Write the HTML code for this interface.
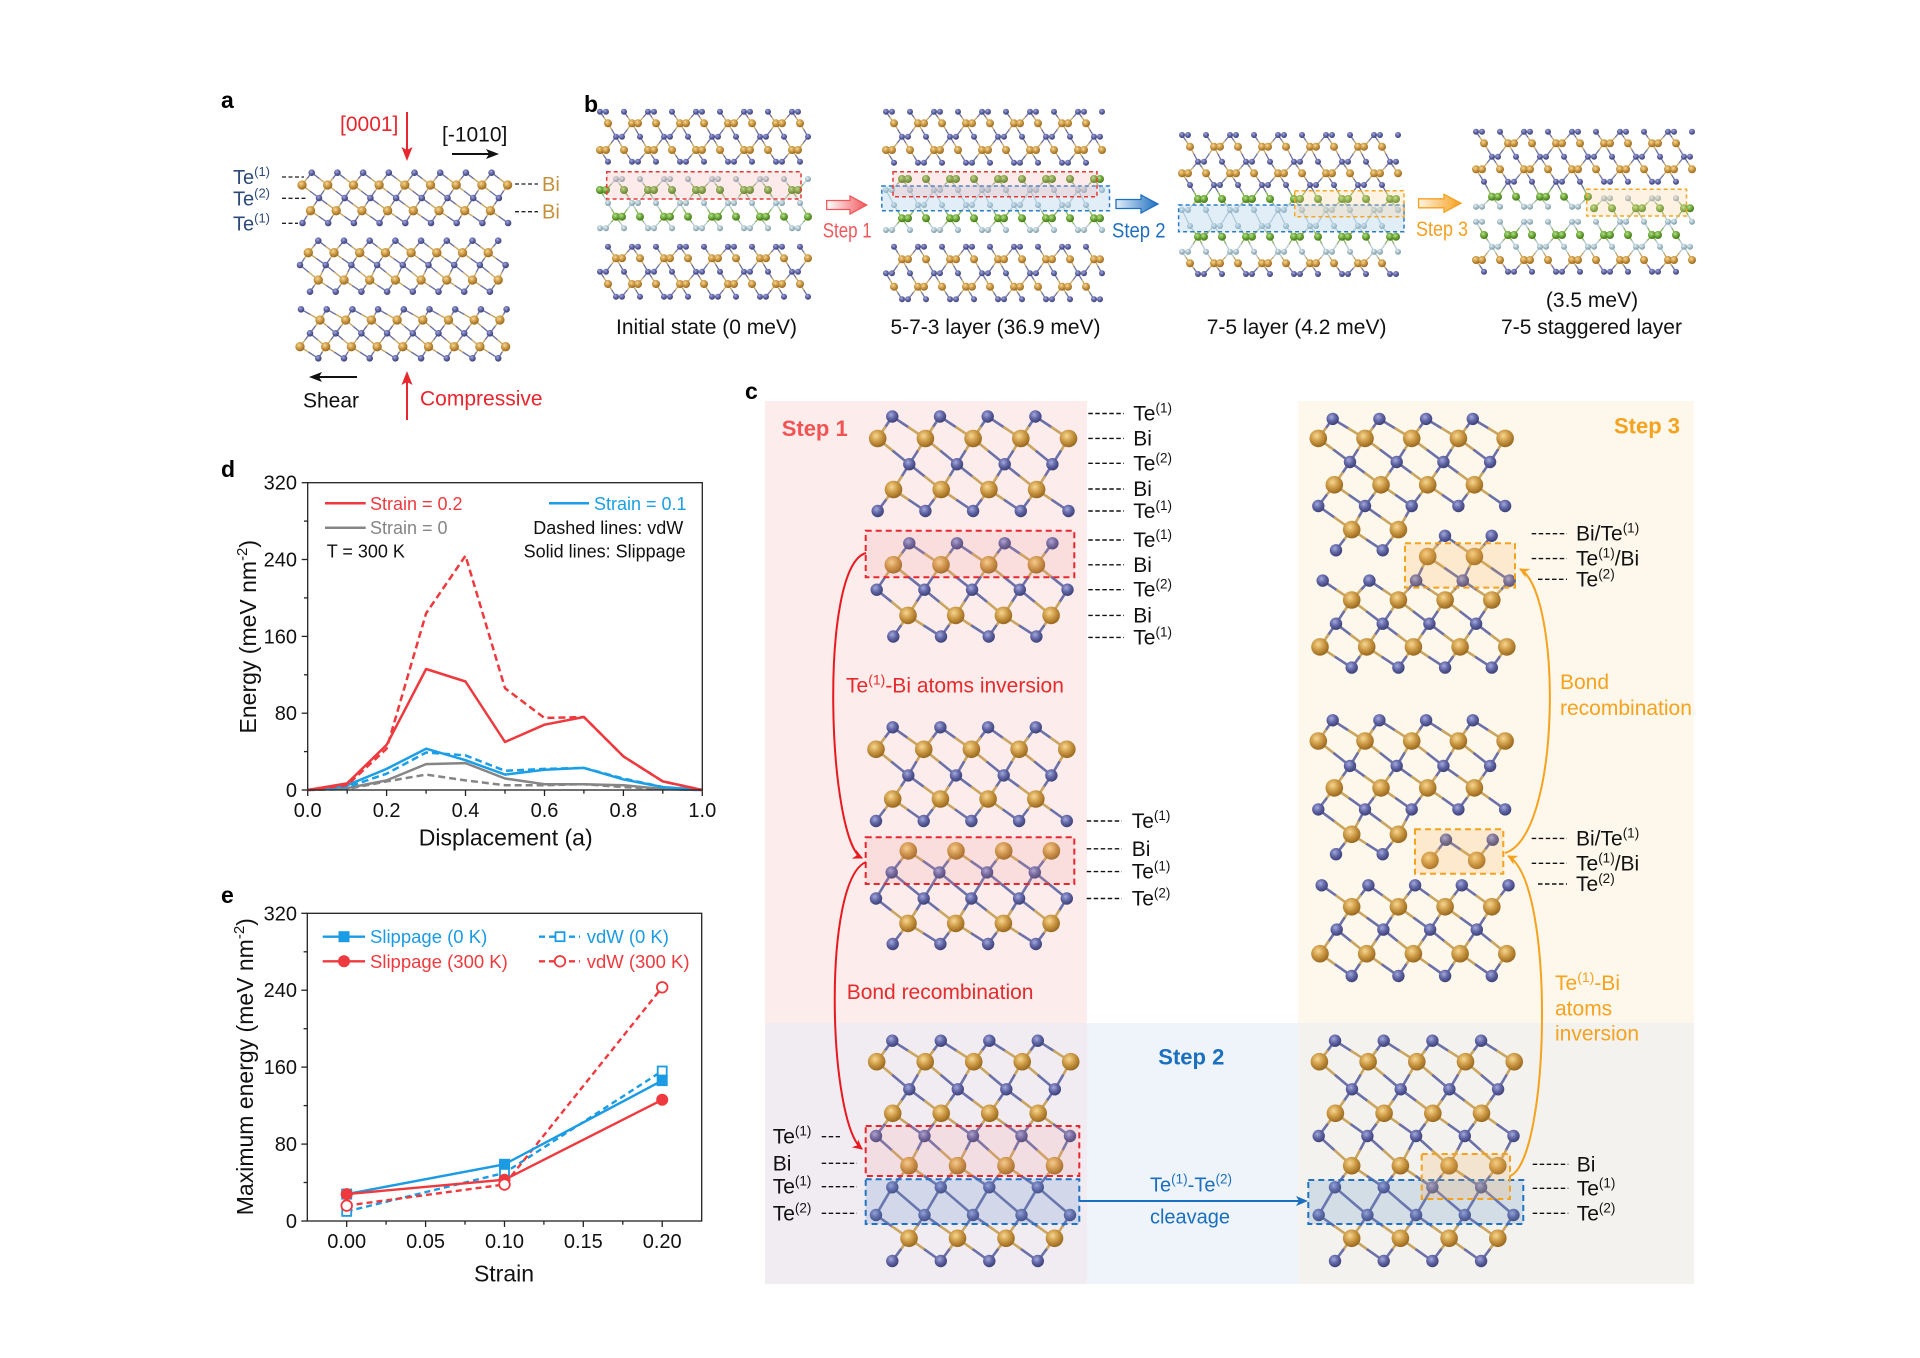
<!DOCTYPE html>
<html><head><meta charset="utf-8">
<style>
html,body{margin:0;padding:0;background:#fff;}
svg{display:block;}
text{font-family:"Liberation Sans",Arial,sans-serif;}
</style></head><body>
<svg id="main" xmlns="http://www.w3.org/2000/svg" width="1920" height="1358" viewBox="0 0 1920 1358">
<defs>
<radialGradient id="gTe" cx="40%" cy="35%" r="65%"><stop offset="0" stop-color="#a3a8dc"/><stop offset="0.55" stop-color="#5e63a3"/><stop offset="1" stop-color="#3d4177"/></radialGradient>
<radialGradient id="gBi" cx="40%" cy="35%" r="65%"><stop offset="0" stop-color="#f7d690"/><stop offset="0.55" stop-color="#c99641"/><stop offset="1" stop-color="#98681f"/></radialGradient>
<radialGradient id="gG" cx="40%" cy="35%" r="65%"><stop offset="0" stop-color="#b8e28e"/><stop offset="0.55" stop-color="#6aa535"/><stop offset="1" stop-color="#42761b"/></radialGradient>
<radialGradient id="gL" cx="40%" cy="35%" r="65%"><stop offset="0" stop-color="#e6f0f3"/><stop offset="0.55" stop-color="#a8c1ca"/><stop offset="1" stop-color="#7c99a4"/></radialGradient>
<linearGradient id="lgR" x1="0" x2="1" y1="0" y2="0"><stop offset="0" stop-color="#fff"/><stop offset="1" stop-color="#f0585c"/></linearGradient>
<linearGradient id="lgB" x1="0" x2="1" y1="0" y2="0"><stop offset="0" stop-color="#e3eff9"/><stop offset="1" stop-color="#1f6fc0"/></linearGradient>
<linearGradient id="lgO" x1="0" x2="1" y1="0" y2="0"><stop offset="0" stop-color="#fff4e2"/><stop offset="1" stop-color="#f5a020"/></linearGradient>
<marker id="aR" markerWidth="11" markerHeight="10" refX="9" refY="5" orient="auto" markerUnits="userSpaceOnUse"><path d="M0,0 L10,5 L0,10 L3,5z" fill="#e8191f"/></marker>
<marker id="aO" markerWidth="11" markerHeight="10" refX="9" refY="5" orient="auto" markerUnits="userSpaceOnUse"><path d="M0,0 L10,5 L0,10 L3,5z" fill="#f5a21f"/></marker>
</defs>
<rect width="1920" height="1358" fill="#fff"/>

<!-- panel c backgrounds -->
<rect x="765" y="401" width="322" height="622" fill="#fcecec"/>
<rect x="1298" y="401" width="396" height="622" fill="#fef8ec"/>
<rect x="765" y="1023" width="322" height="261" fill="#f1ecf2"/>
<rect x="1087" y="1023" width="211" height="261" fill="#eef4fa"/>
<rect x="1298" y="1023" width="396" height="261" fill="#f3f2ee"/>

<g id="bonds" stroke-linecap="round"></g>
<g id="atoms"></g>

<!-- panel labels -->
<g font-weight="bold" font-size="23" fill="#000">
<text x="221" y="108">a</text>
<text x="584" y="112">b</text>
<text x="745" y="399">c</text>
<text x="221" y="477">d</text>
<text x="221" y="903">e</text>
</g>

<!-- panel a -->
<text x="340" y="131" font-size="21" fill="#e8262d">[0001]</text>
<line x1="407" y1="112" x2="407" y2="152" stroke="#e8262d" stroke-width="2"/>
<polygon points="401.5,147 407,161 412.5,147 407,150" fill="#e8262d"/>
<text x="442" y="141.5" font-size="21" fill="#111">[-1010]</text>
<line x1="452" y1="154" x2="492" y2="154" stroke="#111" stroke-width="2"/>
<polygon points="486,149 499,154 486,159 489,154" fill="#111"/>
<g font-size="20" fill="#2d4a7a">
<text x="233" y="184">Te<tspan font-size="13" dy="-8">(1)</tspan></text>
<text x="233" y="205.5">Te<tspan font-size="13" dy="-8">(2)</tspan></text>
<text x="233" y="230.5">Te<tspan font-size="13" dy="-8">(1)</tspan></text>
</g>
<g stroke="#222" stroke-width="1.3" stroke-dasharray="4 2.5">
<line x1="282" y1="177" x2="304" y2="177"/>
<line x1="282" y1="198.3" x2="306" y2="198.3"/>
<line x1="282" y1="223.3" x2="298" y2="223.3"/>
<line x1="515" y1="184" x2="538" y2="184"/>
<line x1="515" y1="211.7" x2="538" y2="211.7"/>
</g>
<g font-size="20" fill="#c4903c">
<text x="542" y="191">Bi</text>
<text x="542" y="218.7">Bi</text>
</g>
<line x1="357" y1="377" x2="316" y2="377" stroke="#111" stroke-width="2"/>
<polygon points="322,372 309,377 322,382 319,377" fill="#111"/>
<text x="303" y="407.5" font-size="21" fill="#111">Shear</text>
<line x1="407" y1="420" x2="407" y2="380" stroke="#e8262d" stroke-width="2"/>
<polygon points="401.5,385 407,371 412.5,385 407,382" fill="#e8262d"/>
<text x="420" y="405.5" font-size="21" fill="#e8262d">Compressive</text>

<!-- panel b boxes -->
<g stroke-width="1.5" stroke-dasharray="4 3">
<rect x="606.7" y="171.7" width="194.3" height="27.3" fill="rgba(245,160,160,0.22)" stroke="#e53935"/>
<rect x="881.8" y="186" width="227.7" height="24.7" fill="rgba(170,205,235,0.35)" stroke="#2b7bc4"/>
<rect x="893" y="171.7" width="204" height="25" fill="rgba(245,160,160,0.22)" stroke="#e53935"/>
<rect x="1178.6" y="205" width="225.4" height="26.7" fill="rgba(170,205,235,0.35)" stroke="#2b7bc4"/>
<rect x="1294.7" y="190.7" width="109.3" height="26" fill="rgba(250,210,150,0.28)" stroke="#f5a623"/>
<rect x="1586.7" y="189.3" width="99.8" height="26.7" fill="rgba(250,210,150,0.28)" stroke="#f5a623"/>
</g>
<polygon points="826.7,200.5 850,200.5 850,196 866.7,205 850,214 850,209.5 826.7,209.5" fill="url(#lgR)" stroke="#f0585c" stroke-width="1.3"/>
<polygon points="1116,199.5 1141,199.5 1141,195 1158,204 1141,213 1141,208.5 1116,208.5" fill="url(#lgB)" stroke="#1f6fc0" stroke-width="1.3"/>
<polygon points="1418.6,198.8 1444,198.8 1444,194.3 1461,203.3 1444,212.3 1444,207.8 1418.6,207.8" fill="url(#lgO)" stroke="#f5a020" stroke-width="1.3"/>
<text x="822.7" y="237.5" font-size="21" fill="#f0585c" textLength="49" lengthAdjust="spacingAndGlyphs">Step 1</text>
<text x="1112" y="237.5" font-size="21" fill="#1f6fc0" textLength="53.5" lengthAdjust="spacingAndGlyphs">Step 2</text>
<text x="1416" y="236" font-size="21" fill="#f5a020" textLength="52" lengthAdjust="spacingAndGlyphs">Step 3</text>
<g font-size="21" fill="#111" text-anchor="middle">
<text x="706.5" y="334">Initial state (0 meV)</text>
<text x="995.5" y="334">5-7-3 layer (36.9 meV)</text>
<text x="1296.6" y="334">7-5 layer (4.2 meV)</text>
<text x="1592" y="307">(3.5 meV)</text>
<text x="1591.5" y="334">7-5 staggered layer</text>
</g>

<!-- panel c boxes -->
<g stroke-width="2" stroke-dasharray="6 4">
<rect x="865.7" y="530.8" width="208.6" height="46.5" fill="rgba(240,140,140,0.16)" stroke="#e8262d"/>
<rect x="865.7" y="837.2" width="208.6" height="46.8" fill="rgba(240,140,140,0.16)" stroke="#e8262d"/>
<rect x="865.7" y="1126" width="213.6" height="50" fill="rgba(240,140,140,0.16)" stroke="#e8262d"/>
<rect x="865.7" y="1179.3" width="213.6" height="44.7" fill="rgba(100,145,200,0.22)" stroke="#2272c3"/>
<rect x="1308.3" y="1180" width="215" height="44" fill="rgba(100,145,200,0.22)" stroke="#2272c3"/>
<rect x="1421.7" y="1154" width="88.3" height="45" fill="rgba(245,175,90,0.2)" stroke="#f5a21f"/>
<rect x="1405" y="543.3" width="110" height="44.3" fill="rgba(245,175,90,0.2)" stroke="#f5a21f"/>
<rect x="1415" y="829.3" width="88.3" height="44.4" fill="rgba(245,175,90,0.2)" stroke="#f5a21f"/>
</g>

<!-- panel c curves -->
<g fill="none" stroke-width="2">
<path d="M866,553 C818,566 828,842 862,858" stroke="#e8191f" marker-end="url(#aR)"/>
<path d="M866,862 C822,880 828,1122 862,1149" stroke="#e8191f" marker-end="url(#aR)"/>
<path d="M1505,853 C1562,835 1562,592 1520,569" stroke="#f5a21f" marker-end="url(#aO)"/>
<path d="M1510,1176 C1550,1160 1556,882 1508,856" stroke="#f5a21f" marker-end="url(#aO)"/>
</g>
<line x1="1079.3" y1="1201" x2="1300" y2="1201" stroke="#1a6fbe" stroke-width="2"/>
<polygon points="1296,1196 1308,1201 1296,1206 1299,1201" fill="#1a6fbe"/>

<!-- panel c texts -->
<g font-weight="bold" font-size="22">
<text x="781.7" y="436" fill="#f25454">Step 1</text>
<text x="1158.3" y="1064.5" fill="#1a6fbe">Step 2</text>
<text x="1680" y="433.5" fill="#f5a21f" text-anchor="end">Step 3</text>
</g>
<g font-size="21" fill="#e52b2b">
<text x="846" y="692.5">Te<tspan font-size="14" dy="-8">(1)</tspan><tspan dy="8">-Bi atoms inversion</tspan></text>
<text x="846.7" y="999">Bond recombination</text>
</g>
<g font-size="20" fill="#1a6fbe" text-anchor="middle">
<text x="1191" y="1191.5">Te<tspan font-size="13.5" dy="-8">(1)</tspan><tspan dy="8">-Te</tspan><tspan font-size="13.5" dy="-8">(2)</tspan></text>
<text x="1190" y="1223.5">cleavage</text>
</g>
<g font-size="21" fill="#f5a21f">
<text x="1560" y="689">Bond</text>
<text x="1560" y="715">recombination</text>
<text x="1555" y="990">Te<tspan font-size="14" dy="-8">(1)</tspan><tspan dy="8">-Bi</tspan></text>
<text x="1555" y="1015.5">atoms</text>
<text x="1555" y="1040.5">inversion</text>
</g>
<!-- dashed label lines -->
<g stroke="#111" stroke-width="1.4" stroke-dasharray="4.5 2.5">
<line x1="1088.3" y1="413.5" x2="1124" y2="413.5"/>
<line x1="1088.3" y1="438.4" x2="1124" y2="438.4"/>
<line x1="1088.3" y1="463.3" x2="1124" y2="463.3"/>
<line x1="1088.3" y1="489" x2="1124" y2="489"/>
<line x1="1088.3" y1="511" x2="1124" y2="511"/>
<line x1="1088.3" y1="540" x2="1124" y2="540"/>
<line x1="1088.3" y1="564.8" x2="1124" y2="564.8"/>
<line x1="1088.3" y1="589.7" x2="1124" y2="589.7"/>
<line x1="1088.3" y1="615.4" x2="1124" y2="615.4"/>
<line x1="1088.3" y1="637.4" x2="1124" y2="637.4"/>
<line x1="1086.7" y1="821" x2="1122" y2="821"/>
<line x1="1086.7" y1="848.8" x2="1122" y2="848.8"/>
<line x1="1086.7" y1="871.6" x2="1122" y2="871.6"/>
<line x1="1086.7" y1="898.5" x2="1122" y2="898.5"/>
<line x1="821.7" y1="1136.7" x2="840" y2="1136.7"/>
<line x1="821.7" y1="1163.3" x2="857" y2="1163.3"/>
<line x1="821.7" y1="1186.7" x2="857" y2="1186.7"/>
<line x1="821.7" y1="1213.3" x2="857" y2="1213.3"/>
<line x1="1532.7" y1="1164.3" x2="1568.3" y2="1164.3"/>
<line x1="1532.7" y1="1188.3" x2="1568.3" y2="1188.3"/>
<line x1="1532.7" y1="1213.3" x2="1568.3" y2="1213.3"/>
<line x1="1531.7" y1="533.7" x2="1567" y2="533.7"/>
<line x1="1531.7" y1="558.6" x2="1567" y2="558.6"/>
<line x1="1538" y1="579.3" x2="1567" y2="579.3"/>
<line x1="1531.7" y1="838.4" x2="1567" y2="838.4"/>
<line x1="1531.7" y1="863.3" x2="1567" y2="863.3"/>
<line x1="1538" y1="884" x2="1567" y2="884"/>
</g>
<g font-size="21" fill="#111">
<text x="1133.3" y="420.5">Te<tspan font-size="13.5" dy="-8">(1)</tspan></text>
<text x="1133.3" y="445.4">Bi</text>
<text x="1133.3" y="470.3">Te<tspan font-size="13.5" dy="-8">(2)</tspan></text>
<text x="1133.3" y="496">Bi</text>
<text x="1133.3" y="518">Te<tspan font-size="13.5" dy="-8">(1)</tspan></text>
<text x="1133.3" y="547">Te<tspan font-size="13.5" dy="-8">(1)</tspan></text>
<text x="1133.3" y="571.8">Bi</text>
<text x="1133.3" y="596.7">Te<tspan font-size="13.5" dy="-8">(2)</tspan></text>
<text x="1133.3" y="622.4">Bi</text>
<text x="1133.3" y="644.4">Te<tspan font-size="13.5" dy="-8">(1)</tspan></text>
<text x="1131.7" y="828">Te<tspan font-size="13.5" dy="-8">(1)</tspan></text>
<text x="1131.7" y="855.8">Bi</text>
<text x="1131.7" y="878.6">Te<tspan font-size="13.5" dy="-8">(1)</tspan></text>
<text x="1131.7" y="905.5">Te<tspan font-size="13.5" dy="-8">(2)</tspan></text>
<text x="772.7" y="1143.7">Te<tspan font-size="13.5" dy="-8">(1)</tspan></text>
<text x="772.7" y="1170.3">Bi</text>
<text x="772.7" y="1193.7">Te<tspan font-size="13.5" dy="-8">(1)</tspan></text>
<text x="772.7" y="1220.3">Te<tspan font-size="13.5" dy="-8">(2)</tspan></text>
<text x="1576.7" y="1171.3">Bi</text>
<text x="1576.7" y="1195.3">Te<tspan font-size="13.5" dy="-8">(1)</tspan></text>
<text x="1576.7" y="1220.3">Te<tspan font-size="13.5" dy="-8">(2)</tspan></text>
<text x="1576" y="540.7">Bi/Te<tspan font-size="13.5" dy="-8">(1)</tspan></text>
<text x="1576" y="565.6">Te<tspan font-size="13.5" dy="-8">(1)</tspan><tspan dy="8">/Bi</tspan></text>
<text x="1576" y="586.3">Te<tspan font-size="13.5" dy="-8">(2)</tspan></text>
<text x="1576" y="845.4">Bi/Te<tspan font-size="13.5" dy="-8">(1)</tspan></text>
<text x="1576" y="870.3">Te<tspan font-size="13.5" dy="-8">(1)</tspan><tspan dy="8">/Bi</tspan></text>
<text x="1576" y="891">Te<tspan font-size="13.5" dy="-8">(2)</tspan></text>
</g>

<!-- panel d -->
<g stroke="#222" stroke-width="1.3">
<line x1="307.7" y1="790" x2="301.7" y2="790"/>
<line x1="307.7" y1="713.2" x2="301.7" y2="713.2"/>
<line x1="307.7" y1="636.4" x2="301.7" y2="636.4"/>
<line x1="307.7" y1="559.5" x2="301.7" y2="559.5"/>
<line x1="307.7" y1="482.7" x2="301.7" y2="482.7"/>
<line x1="307.7" y1="751.6" x2="304" y2="751.6"/>
<line x1="307.7" y1="674.8" x2="304" y2="674.8"/>
<line x1="307.7" y1="597.9" x2="304" y2="597.9"/>
<line x1="307.7" y1="521.1" x2="304" y2="521.1"/>
<line x1="307.7" y1="790" x2="307.7" y2="796"/>
<line x1="386.6" y1="790" x2="386.6" y2="796"/>
<line x1="465.5" y1="790" x2="465.5" y2="796"/>
<line x1="544.5" y1="790" x2="544.5" y2="796"/>
<line x1="623.4" y1="790" x2="623.4" y2="796"/>
<line x1="702.3" y1="790" x2="702.3" y2="796"/>
<line x1="347.2" y1="790" x2="347.2" y2="793.7"/>
<line x1="426.1" y1="790" x2="426.1" y2="793.7"/>
<line x1="505" y1="790" x2="505" y2="793.7"/>
<line x1="583.9" y1="790" x2="583.9" y2="793.7"/>
<line x1="662.8" y1="790" x2="662.8" y2="793.7"/>
</g>
<g fill="none" stroke-width="2.5" stroke-linejoin="round">
<polyline points="307.7,790 347.2,789 386.6,781.4 426.1,774.6 465.5,780.4 505,785.2 544.5,785.2 583.9,784.2 623.4,787.1 662.8,789 702.3,790" stroke="#858585" stroke-dasharray="7 4"/>
<polyline points="307.7,790 347.2,788.1 386.6,780.4 426.1,764.1 465.5,763.1 505,778.5 544.5,784.2 583.9,784.2 623.4,785.2 662.8,789 702.3,790" stroke="#858585"/>
<polyline points="307.7,790 347.2,787.1 386.6,773.7 426.1,752.5 465.5,755.4 505,770.8 544.5,768.9 583.9,767.9 623.4,778.5 662.8,787.1 702.3,790" stroke="#1b9ee6" stroke-dasharray="7 4"/>
<polyline points="307.7,790 347.2,785.2 386.6,768.9 426.1,748.7 465.5,760.2 505,774.6 544.5,769.8 583.9,767.9 623.4,779.4 662.8,787.1 702.3,790" stroke="#1b9ee6"/>
<polyline points="307.7,790 347.2,785.2 386.6,748.7 426.1,613.3 465.5,555.7 505,688.2 544.5,718 583.9,717 623.4,756.4 662.8,781.4 702.3,790" stroke="#ee3a3e" stroke-dasharray="7 4"/>
<polyline points="307.7,790 347.2,783.3 386.6,744.9 426.1,669 465.5,681.5 505,742 544.5,724.7 583.9,717 623.4,756.4 662.8,781.4 702.3,790" stroke="#ee3a3e"/>
</g>
<rect x="307.7" y="482.7" width="394.6" height="307.3" fill="none" stroke="#222" stroke-width="1.3"/>
<g font-size="20" fill="#111" text-anchor="end">
<text x="297" y="797">0</text>
<text x="297" y="720.2">80</text>
<text x="297" y="643.4">160</text>
<text x="297" y="566.5">240</text>
<text x="297" y="489.7">320</text>
</g>
<g font-size="20" fill="#111" text-anchor="middle">
<text x="307.7" y="817">0.0</text>
<text x="386.6" y="817">0.2</text>
<text x="465.5" y="817">0.4</text>
<text x="544.5" y="817">0.6</text>
<text x="623.4" y="817">0.8</text>
<text x="702.3" y="817">1.0</text>
</g>
<text x="505.7" y="845.7" font-size="23" fill="#111" text-anchor="middle">Displacement (a)</text>
<text transform="translate(256,636.7) rotate(-90)" font-size="23" fill="#111" text-anchor="middle">Energy (meV nm<tspan font-size="15" dy="-9">-2</tspan><tspan dy="9">)</tspan></text>
<g stroke-width="2.5">
<line x1="325" y1="503.3" x2="365.7" y2="503.3" stroke="#ee3a3e"/>
<line x1="325" y1="527.7" x2="365.7" y2="527.7" stroke="#858585"/>
<line x1="549" y1="503.3" x2="589" y2="503.3" stroke="#1b9ee6"/>
</g>
<g font-size="18">
<text x="370" y="509.8" fill="#ee3a3e">Strain = 0.2</text>
<text x="370" y="534.2" fill="#858585">Strain = 0</text>
<text x="326.7" y="557.5" fill="#111">T = 300 K</text>
<text x="594" y="509.8" fill="#1b9ee6">Strain = 0.1</text>
<text x="683.3" y="534.2" fill="#111" text-anchor="end">Dashed lines: vdW</text>
<text x="685.7" y="557.5" fill="#111" text-anchor="end">Solid lines: Slippage</text>
</g>

<!-- panel e -->
<g stroke="#222" stroke-width="1.3">
<line x1="307.3" y1="1221" x2="301.3" y2="1221"/>
<line x1="307.3" y1="1144.1" x2="301.3" y2="1144.1"/>
<line x1="307.3" y1="1067.1" x2="301.3" y2="1067.1"/>
<line x1="307.3" y1="990.2" x2="301.3" y2="990.2"/>
<line x1="307.3" y1="913.3" x2="301.3" y2="913.3"/>
<line x1="307.3" y1="1182.5" x2="303.6" y2="1182.5"/>
<line x1="307.3" y1="1105.6" x2="303.6" y2="1105.6"/>
<line x1="307.3" y1="1028.7" x2="303.6" y2="1028.7"/>
<line x1="307.3" y1="951.8" x2="303.6" y2="951.8"/>
<line x1="346.7" y1="1221" x2="346.7" y2="1227"/>
<line x1="425.6" y1="1221" x2="425.6" y2="1227"/>
<line x1="504.5" y1="1221" x2="504.5" y2="1227"/>
<line x1="583.3" y1="1221" x2="583.3" y2="1227"/>
<line x1="662.2" y1="1221" x2="662.2" y2="1227"/>
<line x1="386.1" y1="1221" x2="386.1" y2="1224.7"/>
<line x1="465" y1="1221" x2="465" y2="1224.7"/>
<line x1="543.9" y1="1221" x2="543.9" y2="1224.7"/>
<line x1="622.8" y1="1221" x2="622.8" y2="1224.7"/>
</g>
<g fill="none" stroke-width="2.4">
<polyline points="346.7,1211.4 504.5,1172.9 662.2,1071" stroke="#1a9be3" stroke-dasharray="6 4"/>
<polyline points="346.7,1205.6 504.5,1184.5 662.2,987.3" stroke="#ee3a3e" stroke-dasharray="6 4"/>
<polyline points="346.7,1194.1 504.5,1164.3 662.2,1080.6" stroke="#1a9be3"/>
<polyline points="346.7,1194.1 504.5,1179.7 662.2,1099.8" stroke="#ee3a3e"/>
</g>
<g fill="#fff" stroke-width="1.8">
<rect x="342.2" y="1206.9" width="9" height="9" stroke="#1a9be3"/>
<rect x="500" y="1168.4" width="9" height="9" stroke="#1a9be3"/>
<rect x="657.7" y="1066.5" width="9" height="9" stroke="#1a9be3"/>
</g>
<g fill="#1a9be3">
<rect x="341.2" y="1188.6" width="11" height="11"/>
<rect x="499" y="1158.8" width="11" height="11"/>
<rect x="656.7" y="1075.1" width="11" height="11"/>
</g>
<g fill="#ee3a3e">
<circle cx="346.7" cy="1194.1" r="6"/>
<circle cx="504.5" cy="1179.7" r="6"/>
<circle cx="662.2" cy="1099.8" r="6"/>
</g>
<g fill="#fff" stroke="#ee3a3e" stroke-width="1.8">
<circle cx="346.7" cy="1205.6" r="5.3"/>
<circle cx="504.5" cy="1184.5" r="5.3"/>
<circle cx="662.2" cy="987.3" r="5.3"/>
</g>
<rect x="307.3" y="913.3" width="394.4" height="307.7" fill="none" stroke="#222" stroke-width="1.3"/>
<g font-size="20" fill="#111" text-anchor="end">
<text x="297" y="1228">0</text>
<text x="297" y="1151.1">80</text>
<text x="297" y="1074.1">160</text>
<text x="297" y="997.2">240</text>
<text x="297" y="920.3">320</text>
</g>
<g font-size="20" fill="#111" text-anchor="middle">
<text x="346.7" y="1248">0.00</text>
<text x="425.6" y="1248">0.05</text>
<text x="504.5" y="1248">0.10</text>
<text x="583.3" y="1248">0.15</text>
<text x="662.2" y="1248">0.20</text>
</g>
<text x="504" y="1281.5" font-size="23" fill="#111" text-anchor="middle">Strain</text>
<text transform="translate(253,1066.7) rotate(-90)" font-size="23" fill="#111" text-anchor="middle">Maximum energy (meV nm<tspan font-size="15" dy="-9">-2</tspan><tspan dy="9">)</tspan></text>
<line x1="322.7" y1="936.7" x2="365" y2="936.7" stroke="#1a9be3" stroke-width="2.4"/>
<rect x="338.5" y="931.2" width="11" height="11" fill="#1a9be3"/>
<line x1="322.7" y1="961.3" x2="365" y2="961.3" stroke="#ee3a3e" stroke-width="2.4"/>
<circle cx="344" cy="961.3" r="6" fill="#ee3a3e"/>
<line x1="539" y1="936.7" x2="580" y2="936.7" stroke="#1a9be3" stroke-width="2.4" stroke-dasharray="6 4"/>
<rect x="555.5" y="932.2" width="9" height="9" fill="#fff" stroke="#1a9be3" stroke-width="1.8"/>
<line x1="539" y1="961.3" x2="580" y2="961.3" stroke="#ee3a3e" stroke-width="2.4" stroke-dasharray="6 4"/>
<circle cx="560" cy="961.3" r="5.3" fill="#fff" stroke="#ee3a3e" stroke-width="1.8"/>
<g font-size="18.5">
<text x="370" y="943.2" fill="#1a9be3">Slippage (0 K)</text>
<text x="370" y="967.8" fill="#ee3a3e">Slippage (300 K)</text>
<text x="586.7" y="943.2" fill="#1a9be3">vdW (0 K)</text>
<text x="586.7" y="967.8" fill="#ee3a3e">vdW (300 K)</text>
</g>
</svg>
<script>
(function(){
var NS='http://www.w3.org/2000/svg';
var gB=document.getElementById('bonds'), gA=document.getElementById('atoms');
var BC={Te:'#6b70a8',Bi:'#caa560',G:'#86b556',L:'#b3c9d0'};
function mk(tag,at,p){var e=document.createElementNS(NS,tag);for(var k in at)e.setAttribute(k,at[k]);p.appendChild(e);return e;}
function circ(a,r){mk('circle',{cx:a.x.toFixed(1),cy:a.y.toFixed(1),r:r.toFixed(2),fill:'url(#g'+a.t+')'},gA);}
function bond(a,b,w){var mx=(a.x+b.x)/2,my=(a.y+b.y)/2;
 mk('line',{x1:a.x.toFixed(1),y1:a.y.toFixed(1),x2:mx.toFixed(1),y2:my.toFixed(1),stroke:BC[a.t],'stroke-width':w},gB);
 mk('line',{x1:mx.toFixed(1),y1:my.toFixed(1),x2:b.x.toFixed(1),y2:b.y.toFixed(1),stroke:BC[b.t],'stroke-width':w},gB);}
function S(rows,P,sc,breaks,w,dx0){dx0=dx0||0;breaks=breaks||[];
 var R={Te:6.2,Bi:8.8,G:8.8,L:6.2};
 var atoms=rows.map(function(r){var a=[];for(var k=0;k<r[3];k++)a.push({x:r[2]+dx0+k*P,y:r[0],t:r[1]});return a;});
 for(var i=0;i<atoms.length-1;i++){if(breaks.indexOf(i)>=0)continue;
  atoms[i].forEach(function(a){atoms[i+1].forEach(function(b){var d=b.x-a.x;
   if((d>-0.45*P&&d<-0.2*P)||(d>0.55*P&&d<0.8*P))bond(a,b,w);});});}
 atoms.forEach(function(row){row.forEach(function(a){circ(a,R[a.t]*sc);});});}
function SB(rows,xmin,xmax){var P=48,offs=[0,6,24],R={Te:3.0,Bi:4.0,G:4.0,L:3.0};
 var atoms=rows.map(function(r,i){var ph=(r[2]!=null)?r[2]:(i*32)%48;var a0=r[3]||xmin,a1=r[4]||xmax;var a=[];
  for(var k=-2;k<8;k++)offs.forEach(function(o){var x=xmin+ph+k*P+o;if(x>=a0&&x<=a1)a.push({x:x,y:r[0],t:r[1]});});return a;});
 for(var i=0;i<atoms.length-1;i++){var dy=rows[i+1][0]-rows[i][0];if(dy<=0||dy>16)continue;
  atoms[i].forEach(function(a){atoms[i+1].forEach(function(b){var d=Math.abs(b.x-a.x);if(d>3&&d<13)bond(a,b,1.3);});});}
 atoms.forEach(function(row){row.forEach(function(a){circ(a,R[a.t]);});});}

/* panel a */
S([[172.7,'Te',311.7,8],[185,'Bi',302,9],[198,'Te',319,8],[210.7,'Bi',310.5,8],[223,'Te',302.5,9],
   [240.7,'Te',318.3,8],[252.7,'Bi',308.3,8],[265,'Te',300,9],[280,'Bi',318.3,8],[291.7,'Te',310,8],
   [309.3,'Te',301,9],[320,'Bi',320,8],[333.3,'Te',310,8],[346.7,'Bi',300,9],[358.3,'Te',318.3,8]],25.7,0.53,[4,9],1.4);

/* panel b */
SB([[111.7,'Te'],[123.3,'Bi'],[136.7,'Te'],[150,'Bi'],[161.7,'Te'],[179,'L'],[190,'G'],[203,'L'],[216.7,'G'],[228.3,'L'],[246.7,'Te'],[258.3,'Bi'],[271.7,'Te'],[284,'Bi'],[296.7,'Te']],600,812);
SB([[111.7,'Te'],[123.3,'Bi'],[136.7,'Te'],[150,'Bi'],[162.7,'Te'],[179,'G'],[190,'L'],[205,'L'],[218.3,'G'],[230,'L'],[246.7,'Te'],[259.3,'Bi'],[273.3,'Te'],[286.7,'Bi'],[299.3,'Te']],886,1107);
SB([[135,'Te'],[146.7,'Bi'],[161.7,'Te'],[173.3,'Bi'],[185,'Te'],[199,'G'],[210,'L'],[226,'L'],[236.7,'G'],[251.7,'L'],[263.3,'Bi'],[274,'Te']],1182,1404);
SB([[131.7,'Te'],[143.3,'Bi'],[156.7,'Te'],[169.3,'Bi'],[181.7,'Te'],[196.7,'G',null,1476,1588],[206.7,'L',null,1476,1588],[198.3,'L',null,1592,1690],[208.3,'G',null,1592,1690],[221.7,'L'],[235,'G'],[246.7,'L'],[260,'Bi'],[271.7,'Te']],1476,1697);

/* panel c left */
S([[416.5,'Te',892.3,4],[438.5,'Bi',877.7,5],[464.2,'Te',909.3,4],[489.5,'Bi',893.5,4],[511,'Te',877.7,5],
   [543.3,'Te',909.3,4],[564.8,'Bi',893.3,4],[589.7,'Te',876.7,5],[615.4,'Bi',908,4],[636.5,'Te',893.3,4]],47.7,1,[4],2.6);
S([[727.3,'Te',892.7,4],[749.3,'Bi',876,5],[775.4,'Te',908.3,4],[799,'Bi',892.7,4],[821,'Te',876,5],
   [850.9,'Bi',908.3,4],[872.4,'Te',891.7,4],[898.5,'Te',876,5],[923.4,'Bi',908,4],[944,'Te',892.7,4]],47.7,1,[4],2.6);
var L3=[[1040.7,'Te',892.3,4],[1061.7,'Bi',876.7,5],[1089.3,'Te',909.3,4],[1113.3,'Bi',892.7,4],[1136,'Te',876,5],
   [1165.7,'Bi',909,4],[1187.3,'Te',892.3,4],[1215,'Te',876,5],[1238.3,'Bi',909,4],[1261,'Te',892.3,4]];
S(L3,48.5,1,[],2.6);
S(L3,48.7,1,[],2.6,442.7);
/* panel c right */
S([[418.9,'Te',1332.7,4],[438.4,'Bi',1318.3,5],[462,'Te',1350,4],[484.8,'Bi',1334.3,4],[506,'Te',1318.3,5],[529.6,'Bi',1351.7,2],[550.3,'Te',1336,2]],46.7,1,[],2.6);
S([[535.8,'Te',1445,2],[556.5,'Bi',1427.7,2],[580.6,'Te',1416.1,3]],46.7,1,[],2.6);
S([[580.6,'Te',1322.7,5],[600,'Bi',1351.7,4],[623.7,'Te',1336,4],[646.9,'Bi',1320,5],[667.6,'Te',1351.7,4]],46.7,1,[],2.6);
S([[720.3,'Te',1332.7,4],[741,'Bi',1318.3,5],[765.9,'Te',1350,4],[787.9,'Bi',1334.3,4],[809.4,'Te',1318.3,5],[834.3,'Bi',1351.7,2],[854.2,'Te',1336,2]],46.7,1,[],2.6);
S([[839.7,'Te',1446,2],[860.4,'Bi',1430,2]],46.7,1,[],2.6);
S([[885.3,'Te',1321.7,5],[906.8,'Bi',1351.7,4],[929.6,'Te',1336.7,4],[953.7,'Bi',1320,5],[976,'Te',1351.7,4]],46.7,1,[],2.6);
})();
</script>
</body></html>
